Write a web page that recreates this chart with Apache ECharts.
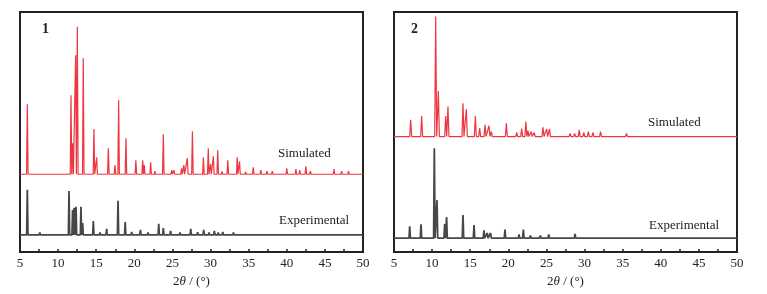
<!DOCTYPE html>
<html>
<head>
<meta charset="utf-8">
<script src="https://cdn.jsdelivr.net/npm/echarts@6/dist/echarts.min.js"></script>
<style>
  html, body { margin: 0; padding: 0; background: #fff; }
  #chart { width: 767px; height: 294px; }
</style>
</head>
<body>
<div id="chart"></div>
<script>
// peak lists: [2theta, height above the trace baseline] in y-axis units (axis 0..100)
var sim1Peaks = [
  [5.96, 29.2], [11.69, 32.9], [11.9, 12.9], [12.3, 49.6], [12.52, 61.5], [13.3, 48.3],
  [14.7, 18.8], [15.06, 7.1], [16.59, 10.8], [17.46, 3.8], [17.94, 30.8], [18.9, 15.0],
  [20.2, 5.8], [21.1, 5.8], [21.3, 3.8], [22.14, 5.0], [22.7, 1.3], [23.8, 16.7],
  [24.9, 1.7], [25.2, 1.7], [26.2, 2.5], [26.5, 3.8], [26.95, 6.7], [27.62, 17.9],
  [29.06, 7.1], [29.7, 10.8], [30.0, 4.2], [30.37, 7.5], [30.94, 10.0], [31.5, 1.2],
  [32.26, 5.8], [33.5, 7.1], [33.8, 5.4], [34.6, 1.0], [35.6, 2.9], [36.6, 1.7],
  [37.4, 1.3], [38.1, 1.3], [39.0, 0.8], [40.0, 2.5], [41.2, 2.1], [41.7, 1.7],
  [42.5, 3.3], [43.1, 1.3], [44.4, 0.8], [45.3, 0.8], [46.2, 2.1], [47.2, 1.3],
  [48.1, 1.3], [49.1, 0.8]
];
var exp1Peaks = [
  [5.96, 18.8], [6.8, 0.7], [7.6, 1.0], [8.3, 0.6], [8.9, 0.8], [9.6, 0.6], [10.2, 0.8],
  [10.8, 0.6], [11.43, 18.3], [11.9, 10.4], [12.1, 11.3], [12.35, 11.7], [13.0, 11.7],
  [13.22, 5.0], [13.9, 0.8], [14.62, 5.8], [15.5, 1.0], [16.37, 2.5], [17.0, 0.8],
  [17.86, 14.2], [18.8, 5.4], [19.65, 1.3], [20.2, 0.7], [20.8, 2.1], [21.8, 1.0],
  [22.4, 0.8], [23.2, 4.6], [23.8, 2.9], [24.76, 1.7], [25.4, 0.8], [26.0, 1.0],
  [26.7, 0.7], [27.4, 2.5], [28.3, 1.2], [29.1, 2.1], [29.8, 1.0], [30.5, 1.7],
  [31.0, 1.0], [31.6, 1.3], [32.3, 0.7], [33.0, 1.0], [33.8, 0.6], [34.6, 0.6],
  [35.5, 0.8], [36.3, 0.6], [37.2, 0.6], [38.1, 0.5], [39.0, 0.6], [39.9, 0.8],
  [40.8, 0.5], [42.0, 0.6], [43.0, 0.5], [44.0, 0.6], [45.2, 0.5], [46.5, 0.5],
  [47.6, 0.5], [48.5, 0.5], [49.4, 0.4]
];
var sim2Peaks = [
  [7.19, 7.0], [8.63, 8.6], [10.47, 50.0], [10.82, 19.0], [11.78, 8.6], [12.08, 12.5],
  [14.05, 13.9], [14.49, 11.4], [15.67, 8.6], [16.24, 3.5], [16.94, 4.9], [17.46, 4.5],
  [17.77, 2.1], [19.74, 5.5], [21.1, 1.7], [21.75, 3.3], [22.3, 6.3], [22.58, 2.5],
  [23.0, 2.1], [23.4, 1.7], [24.55, 3.9], [25.03, 3.2], [25.4, 3.2], [26.4, 0.8],
  [27.1, 0.8], [28.1, 1.3], [28.7, 1.3], [29.3, 2.8], [29.9, 1.7], [30.5, 2.1],
  [31.1, 1.7], [32.1, 2.1], [33.5, 0.4], [34.5, 0.5], [35.5, 1.3], [36.6, 0.5],
  [37.9, 0.4], [39.9, 0.8], [41.5, 0.4], [44.3, 0.8], [46.9, 0.4], [48.6, 0.4]
];
var exp2Peaks = [
  [6.2, 0.6], [7.06, 4.9], [7.8, 0.6], [8.54, 5.7], [9.3, 0.6], [10.29, 37.4],
  [10.64, 15.8], [11.65, 5.8], [11.9, 8.8], [12.8, 0.8], [13.4, 0.6], [14.05, 9.6],
  [14.8, 0.8], [15.5, 5.4], [16.1, 0.8], [16.8, 3.2], [17.24, 2.1], [17.68, 2.1],
  [18.5, 0.6], [19.56, 3.5], [20.4, 0.6], [21.4, 1.5], [21.97, 3.5], [22.9, 1.1],
  [23.6, 0.6], [24.2, 1.1], [25.3, 1.5], [26.1, 0.6], [27.0, 0.8], [27.9, 0.6],
  [28.75, 1.7], [29.4, 0.8], [30.0, 0.8], [30.6, 0.8], [31.4, 0.6], [32.2, 0.6],
  [33.0, 0.5], [34.2, 0.5], [35.5, 0.6], [36.7, 0.5], [38.0, 0.4], [39.2, 0.5],
  [40.0, 0.5], [41.4, 0.4], [42.6, 0.4], [43.8, 0.4], [45.0, 0.4], [46.4, 0.4],
  [47.8, 0.4], [49.0, 0.4]
];
var xTicks = [5, 50, 5];

// baseline levels of the stacked traces (axis units)
var SIM1_BASE = 32.4, EXP1_BASE = 7.1, SIM2_BASE = 48.1, EXP2_BASE = 5.8;

function trace(peaks, base, w) {
  var pts = [[xTicks[0], base]];
  peaks.forEach(function (p) {
    pts.push([p[0] - w, base], [p[0], base + p[1]], [p[0] + w, base]);
  });
  pts.push([xTicks[1], base]);
  return pts;
}

var serif = '"Liberation Serif", "DejaVu Serif", serif';
var RED = '#ee3540', GRAY = '#474747';

function xAxisFor(i) {
  return {
    gridIndex: i, type: 'value', min: xTicks[0], max: xTicks[1], interval: xTicks[2],
    axisLine: { show: false },
    axisTick: { show: true, inside: true, length: 3, lineStyle: { color: '#222', width: 1.5 } },
    minorTick: { show: true, splitNumber: 2, length: 3, lineStyle: { color: '#222', width: 1.5 } },
    splitLine: { show: false },
    axisLabel: { color: '#222', fontFamily: serif, fontSize: 13, margin: 5 },
    name: '{n|2}{t|θ}{n| / (°)}',
    nameLocation: 'middle', nameGap: 22,
    nameTextStyle: {
      rich: {
        n: { fontFamily: serif, fontSize: 13, color: '#222' },
        t: { fontFamily: serif, fontSize: 13, fontStyle: 'italic', color: '#222' }
      }
    }
  };
}
function yAxisFor(i) {
  return {
    gridIndex: i, type: 'value', min: 0, max: 100,
    axisLine: { show: false }, axisTick: { show: false },
    axisLabel: { show: false }, splitLine: { show: false }
  };
}
function lineSeries(i, data, color, width) {
  return {
    type: 'line', xAxisIndex: i, yAxisIndex: i, data: data,
    showSymbol: false, animation: false, silent: true,
    lineStyle: { color: color, width: width }
  };
}
function label(text, left, top, size, bold) {
  return {
    type: 'text', left: left, top: top,
    style: { text: text, fill: '#222', font: (bold ? 'bold ' : '') + size + 'px ' + serif }
  };
}

var chart = echarts.init(document.getElementById('chart'));
chart.setOption({
  animation: false,
  grid: [
    { left: 20, top: 12, width: 343, height: 240, show: true, borderColor: '#222', borderWidth: 2 },
    { left: 394, top: 12, width: 343, height: 240, show: true, borderColor: '#222', borderWidth: 2 }
  ],
  xAxis: [xAxisFor(0), xAxisFor(1)],
  yAxis: [yAxisFor(0), yAxisFor(1)],
  series: [
    lineSeries(0, trace(sim1Peaks, SIM1_BASE, 0.1), RED, 1.2),
    lineSeries(0, trace(exp1Peaks, EXP1_BASE, 0.08), GRAY, 1.8),
    lineSeries(1, trace(sim2Peaks, SIM2_BASE, 0.13), RED, 1.2),
    lineSeries(1, trace(exp2Peaks, EXP2_BASE, 0.09), GRAY, 1.8)
  ],
  graphic: [
    label('1', 42, 22, 14, true),
    label('2', 411, 22, 14, true),
    label('Simulated', 278, 147, 13),
    label('Experimental', 279, 214, 13),
    label('Simulated', 648, 116, 13),
    label('Experimental', 649, 219, 13)
  ]
});
</script>
</body>
</html>
